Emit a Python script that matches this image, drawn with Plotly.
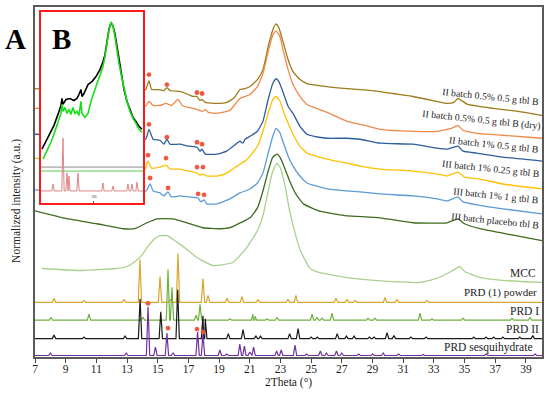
import plotly.graph_objects as go

# ---------------- data (2Theta, normalized stacked intensity, a.u.) ----------------
theta_b1 = [7.0, 8.5, 10.0, 12.0, 13.5, 14.04, 14.25, 14.43, 14.6, 15.0, 15.4, 15.6, 15.8, 16.5, 17.0, 17.3, 17.56, 17.75,
            17.89, 18.1, 18.86, 19.5, 20.0, 20.36, 20.69, 21.02, 21.5, 21.86, 22.2, 22.5, 22.71, 22.9, 23.17, 23.5, 23.82,
            24.27, 24.73, 26.04, 27.34, 28.19, 29.49, 30.34, 31.64, 33.21, 33.86, 34.3, 34.57, 34.8, 35.2, 36.86, 38.5, 40.05]
int_b1 = [270, 269, 269, 268, 267, 267, 270, 278, 269, 269, 268, 271, 268, 267, 264, 262, 262, 258,
          259, 256, 255, 256, 261, 269, 270, 272, 279, 289, 312, 329, 335, 331, 317, 299, 287,
          279, 275, 272, 270, 269, 267, 265, 262, 257, 255, 256, 260, 258, 254, 250, 247, 243]

theta_b2 = [7.0, 10.0, 12.5, 14.04, 14.25, 14.43, 14.7, 15.15, 15.54, 15.9, 16.32, 16.6, 17.0, 17.56, 17.95, 18.1, 18.3,
            18.86, 19.7, 20.36, 20.69, 21.02, 21.5, 21.86, 22.2, 22.5, 22.71, 22.95, 23.2, 23.5, 23.82, 24.27, 24.73,
            26.04, 27.34, 28.19, 29.49, 31.64, 33.21, 33.86, 34.3, 34.57, 34.9, 35.8, 37.5, 40.05]
int_b2 = [250, 251, 252, 252, 253, 257, 253, 253, 255, 253, 259, 253, 251, 249, 247, 249, 246,
          245, 248, 260, 262, 264, 272, 285, 307, 324, 328, 323, 307, 289, 274, 262, 254,
          246, 237, 234, 229, 227, 227, 229, 231, 233, 228, 225, 223, 220]

theta_b3 = [7.0, 10.0, 12.5, 14.04, 14.25, 14.43, 14.7, 15.15, 15.4, 15.6, 15.8, 16.45, 17.0, 17.56, 17.75, 17.89, 18.1,
            18.86, 19.5, 20.17, 20.36, 20.55, 20.69, 21.02, 21.5, 21.86, 22.2, 22.5, 22.71, 22.9, 23.2, 23.5, 23.82,
            24.27, 24.73, 25.5, 26.04, 27.34, 28.19, 29.49, 31.64, 33.21, 33.86, 34.57, 34.9, 35.81, 37.5, 40.05]
int_b3 = [224, 222, 219, 217, 220, 229, 219, 218, 214, 219, 214, 214, 212, 211, 207, 209, 204,
          204, 207, 215, 217, 215, 219, 222, 227, 237, 259, 275, 280, 277, 265, 252, 245,
          232, 224, 221, 220, 220, 219, 215, 214, 210, 209, 212, 207, 205, 201, 197]

theta_b4 = [7.0, 10.0, 12.5, 14.04, 14.2, 14.37, 14.6, 15.15, 15.54, 15.8, 16.45, 17.0, 17.56, 17.75, 17.95, 18.2, 18.86,
            19.5, 20.17, 20.69, 21.02, 21.5, 21.86, 22.2, 22.5, 22.71, 22.95, 23.2, 23.5, 23.82, 24.27, 24.73, 26.04,
            27.34, 28.19, 29.49, 31.64, 33.21, 33.86, 34.57, 35.0, 36.0, 37.5, 40.05]
int_b4 = [200, 195, 190, 187, 190, 197, 190, 191, 193, 189, 189, 187, 185, 183, 184, 182, 182,
          185, 192, 197, 202, 212, 227, 245, 259, 262, 258, 247, 235, 224, 212, 205, 199,
          195, 192, 189, 187, 184, 182, 186, 181, 179, 174, 169]

theta_b5 = [7.0, 10.0, 12.5, 14.04, 14.3, 14.5, 14.7, 15.15, 15.4, 15.67, 15.9, 16.45, 17.0, 17.63, 17.8, 18.02, 18.2,
            18.86, 19.7, 20.36, 21.02, 21.5, 21.86, 22.2, 22.5, 22.71, 22.95, 23.2, 23.5, 23.82, 24.27, 24.73, 26.04,
            27.34, 28.19, 29.49, 31.64, 33.21, 33.86, 34.57, 34.9, 35.81, 37.5, 40.05]
int_b5 = [168, 167, 166, 165, 168, 174, 167, 165, 162, 166, 161, 162, 161, 160, 156, 158, 154,
          154, 159, 165, 169, 175, 185, 205, 222, 230, 226, 215, 202, 192, 182, 175, 169,
          167, 166, 164, 162, 159, 157, 161, 156, 153, 149, 144]

theta_b6 = [7.0, 8.83, 11.04, 12.74, 13.5, 14.3, 14.95, 16.0, 16.91, 17.95, 19.06, 19.71, 20.4, 21.02, 21.5, 21.86,
            22.2, 22.5, 22.78, 23.0, 23.3, 23.6, 24.0, 24.5, 25.5, 26.5, 27.34, 29.49, 31.64, 33.86, 34.57, 35.0,
            36.0, 38.0, 40.05]
int_b6 = [147, 140, 134, 129, 129, 135, 139, 139, 135, 130, 129, 130, 135, 140, 150, 167,
          187, 201, 204, 200, 189, 177, 164, 154, 147, 144, 142, 140, 135, 135, 139, 134,
          129, 123, 117]

theta_mcc = [7.46, 9.9, 12.3, 13.0, 13.6, 14.0, 14.3, 14.8, 15.15, 15.6, 16.3, 17.0, 17.56, 18.6, 19.9, 20.8, 21.5,
             21.86, 22.2, 22.5, 22.78, 23.0, 23.3, 23.6, 24.0, 24.3, 24.93, 25.5, 27.73, 30.0, 32.1, 33.2, 34.0,
             34.71, 35.0, 36.0, 37.5, 40.05]
int_mcc = [89, 87, 89, 91, 97, 103, 110, 119, 122, 122, 115, 107, 100, 92, 95, 110, 127,
           142, 167, 187, 195, 190, 172, 147, 122, 107, 89, 85, 79, 76, 75, 79, 85,
           91, 86, 80, 77, 75]

# crystalline references: baseline level and (2Theta, peak height above baseline)
base_prd1 = 55
peaks_prd1 = [(8.24, 4), (10.19, 2), (12.80, 3), (13.84, 43), (15.15, 26), (15.8, 3), (16.32, 49), (17.95, 24),
              (18.28, 7), (19.52, 4), (20.49, 6), (21.54, 3), (23.49, 3), (24.01, 7), (26.62, 4), (27.34, 3),
              (27.86, 2), (29.82, 5), (30.60, 3), (32.55, 2)]
base_prdI = 37
peaks_prdI = [(8.04, 3), (10.52, 6), (14.04, 3), (15.67, 51), (15.93, 33), (17.5, 5), (17.76, 16), (19.71, 1.5),
              (21.21, 6), (21.34, 4), (22.12, 1.5), (22.78, 3), (25.06, 6), (25.38, 3), (25.71, 2), (26.36, 7),
              (28.71, 2), (29.16, 2), (32.1, 7), (32.88, 1.5), (34.9, 2), (38.1, 2), (39.27, 3)]
base_prdII = 18.5
peaks_prdII = [(8.24, 3.5), (10.19, 1.5), (12.87, 2.5), (13.85, 40), (15.2, 27), (16.3, 49), (17.95, 23), (18.1, 20),
               (19.6, 5), (20.56, 9), (21.4, 2.5), (21.7, 2.5), (23.6, 5), (24.15, 10), (25.0, 1.5), (25.4, 1.5),
               (26.7, 5), (27.3, 2.5), (27.8, 2.5), (28.8, 1.5), (29.1, 1.5), (29.95, 6), (30.4, 3), (31.5, 1.5),
               (32.5, 1.5), (35.6, 1.5), (36.4, 1.5), (36.9, 1.5), (37.5, 1.5), (38.6, 1.5), (39.45, 3)]
base_sesq = 1.5
peaks_sesq = [(8.0, 2.5), (12.95, 2.5), (14.37, 49), (14.85, 8.5), (15.6, 22.5), (16.0, 2.5), (17.6, 23.5),
              (17.95, 21.5), (19.05, 5.5), (19.5, 1.5), (20.35, 11.5), (20.65, 9.5), (21.0, 3.5), (21.25, 8.5),
              (22.75, 4.5), (23.05, 5.5), (23.95, 10.5), (24.7, 1.5), (25.6, 4.5), (26.0, 2.5), (26.65, 4.5),
              (27.0, 2.5), (28.1, 1.5), (29.0, 1.5), (29.7, 2.5), (30.7, 1.5), (32.3, 1), (36.4, 1.5), (39.6, 1.5)]

# red asterisks (2Theta, intensity)
stars_theta = [14.43, 15.6, 17.56, 17.89, 14.43, 15.6, 17.56, 17.89, 14.37, 15.54, 17.56, 17.95,
               14.5, 15.67, 17.63, 18.02, 14.37, 15.67, 17.56, 17.95]
stars_int = [284, 274, 266, 265, 234, 221, 216, 214, 203, 200, 191, 191,
             180, 170, 164, 163, 54, 29, 28, 25]

# inset B
inset_theta_black = [12.0, 12.6, 13.23, 13.85, 14.46, 14.92, 15.08, 15.23, 15.69, 16.31, 16.92, 17.38, 17.69, 18.0,
                     18.15, 18.46, 19.08, 19.69, 20.31, 20.92, 21.38, 21.69, 22.0, 22.31, 22.62, 22.92, 23.23, 23.54,
                     23.85, 24.15, 24.62, 25.08, 25.54, 26.0, 26.46, 26.92, 27.38]
inset_int_black = [54, 62, 70, 78, 89, 98, 105, 99, 104, 105, 103, 105, 109, 114,
                   107, 110, 119, 122, 127, 134, 142, 149, 162, 175, 181, 178, 170, 157,
                   142, 130, 114, 102, 94, 86, 82, 77, 74]
inset_theta_green = [12.15, 12.77, 13.38, 14.0, 14.46, 14.92, 15.08, 15.23, 15.54, 15.85, 16.15, 16.46, 16.77, 17.08,
                     17.38, 17.69, 18.0, 18.15, 18.62, 19.08, 19.54, 20.0, 20.46, 20.92, 21.38, 21.69, 22.0, 22.31,
                     22.62, 22.92, 23.23, 23.54, 23.85, 24.15, 24.62, 25.08, 25.54, 26.0, 26.46, 26.92, 27.38]
inset_int_green = [44, 52, 61, 72, 82, 90, 99, 92, 96, 90, 94, 89, 96, 90,
                   92, 88, 102, 90, 86, 90, 102, 112, 120, 128, 137, 147, 160, 174,
                   182, 178, 167, 152, 140, 130, 114, 102, 92, 85, 80, 74, 71]
inset_base_pink = 12
inset_peaks_pink = [(13.69, 7), (15.23, 53), (15.85, 18), (16.15, 15), (17.54, 18), (21.38, 8), (22.92, 5),
                    (25.23, 7), (25.85, 7), (26.62, 9)]
inset_level_gray = 36
inset_level_green = 32

labels = ["II batch 0.5% 0.5 g tbl B", "II batch 0.5% 0.5 g tbl B (dry)", "II batch 1% 0.5 g tbl B",
          "III batch 1% 0.25 g tbl B", "III batch 1% 1 g tbl B", "III batch placebo tbl B",
          "MCC", "PRD (1) powder", "PRD I", "PRD II", "PRD sesquihydrate"]
x_ticks = list(range(7, 40, 2))

# ---------------- figure ----------------
X0, X1 = 7.0, 40.05
IX0, IX1 = 11.85, 27.54


def stick_profile(peaks, base, x0, x1, hw):
    pts = [(x0, base), (x1, base)]
    for p, h in peaks:
        pts += [(p - hw, base), (p, base + h), (p + hw, base)]
    pts.sort(key=lambda t: t[0])
    return [t[0] for t in pts], [t[1] for t in pts]


SERIF = "Liberation Serif"
fig = go.Figure()

amorph = [
    (theta_b1, int_b1, "#9B7B1C"),
    (theta_b2, int_b2, "#F0884A"),
    (theta_b3, int_b3, "#2E5E9A"),
    (theta_b4, int_b4, "#FFC000"),
    (theta_b5, int_b5, "#5B9BD5"),
    (theta_b6, int_b6, "#3D6B1F"),
    (theta_mcc, int_mcc, "#A9D18E"),
]
for tx, ty, col in amorph:
    fig.add_trace(go.Scatter(x=tx, y=ty, mode="lines", line=dict(color=col, width=1.3, shape="spline", smoothing=0.4),
                             hoverinfo="skip", showlegend=False))

cryst = [
    (peaks_prd1, base_prd1, "#D9A62E"),
    (peaks_prdI, base_prdI, "#6FB043"),
    (peaks_prdII, base_prdII, "#1A1A1A"),
    (peaks_sesq, base_sesq, "#7030A0"),
]
for pk, b, col in cryst:
    sx, sy = stick_profile(pk, b, X0, X1, 0.11)
    fig.add_trace(go.Scatter(x=sx, y=sy, mode="lines", line=dict(color=col, width=1.2),
                             hoverinfo="skip", showlegend=False))

fig.add_trace(go.Scatter(x=stars_theta, y=stars_int, mode="markers",
                         marker=dict(symbol="asterisk-open", size=4, line=dict(color="#FF2A2A", width=1.3)),
                         hoverinfo="skip", showlegend=False))

# inset (drawn above main traces)
fig.add_trace(go.Scatter(x=[IX0, IX1, IX1, IX0, IX0], y=[0, 0, 192, 192, 0], fill="toself", fillcolor="white",
                         mode="lines", line=dict(width=0), xaxis="x2", yaxis="y2", hoverinfo="skip", showlegend=False))
fig.add_trace(go.Scatter(x=[IX0, IX1], y=[inset_level_gray] * 2, mode="lines", line=dict(color="#8C8C8C", width=1),
                         xaxis="x2", yaxis="y2", hoverinfo="skip", showlegend=False))
fig.add_trace(go.Scatter(x=[IX0, IX1], y=[inset_level_green] * 2, mode="lines", line=dict(color="#55D055", width=1),
                         xaxis="x2", yaxis="y2", hoverinfo="skip", showlegend=False))
px_, py_ = stick_profile(inset_peaks_pink, inset_base_pink, IX0, IX1, 0.18)
fig.add_trace(go.Scatter(x=px_, y=py_, mode="lines", line=dict(color="#E08585", width=1),
                         xaxis="x2", yaxis="y2", hoverinfo="skip", showlegend=False))
fig.add_trace(go.Scatter(x=inset_theta_black, y=inset_int_black, mode="lines", line=dict(color="#000000", width=1.6),
                         xaxis="x2", yaxis="y2", hoverinfo="skip", showlegend=False))
fig.add_trace(go.Scatter(x=inset_theta_green, y=inset_int_green, mode="lines", line=dict(color="#18DD18", width=1.6),
                         xaxis="x2", yaxis="y2", hoverinfo="skip", showlegend=False))

L, R, T, B = 35, 8, 5, 37
W, H = 550, 394
PW, PH = W - L - R, H - T - B


def px(xp):
    return (xp - L) / PW


def py(yp):
    return (H - B - yp) / PH


ann = []
label_pos = [(490, 95, 6, 9.8), (481, 119, 6, 9.8), (494, 143, 6, 9.8), (491, 167, 6, 9.8), (496, 195, 6, 9.8),
             (495, 220, 6, 9.8), (523, 273, 0, 11.5), (500, 292, 0, 11), (524, 311, 0, 11.5), (522, 329, 0, 11.5),
             (488, 347, 0, 11.5)]
for txt, (lx, ly, ang, fs) in zip(labels, label_pos):
    ann.append(dict(text=txt, x=px(lx), y=py(ly), xref="paper", yref="paper", showarrow=False, textangle=ang,
                    xanchor="center", yanchor="middle", font=dict(family=SERIF, size=fs, color="#222")))
ann.append(dict(text="<b>A</b>", x=px(15), y=py(37), xref="paper", yref="paper", showarrow=False,
                xanchor="center", yanchor="middle", font=dict(family=SERIF, size=29, color="#000")))
ann.append(dict(text="<b>B</b>", x=px(61), y=py(37), xref="paper", yref="paper", showarrow=False,
                xanchor="center", yanchor="middle", font=dict(family=SERIF, size=29, color="#000")))
ann.append(dict(text="Normalized intensity (a.u.)", x=px(17), y=py(200), xref="paper", yref="paper",
                showarrow=False, textangle=-90, xanchor="center", yanchor="middle",
                font=dict(family=SERIF, size=11.5, color="#222")))
ann.append(dict(text="2Theta (°)", x=px(288), y=py(383), xref="paper", yref="paper", showarrow=False,
                xanchor="center", yanchor="middle", font=dict(family=SERIF, size=11.5, color="#222")))

fig.update_layout(
    width=W, height=H, margin=dict(l=L, r=R, t=T, b=B), paper_bgcolor="white", plot_bgcolor="white",
    showlegend=False, annotations=ann,
    xaxis=dict(range=[X0, X1], tickvals=x_ticks, ticks="outside", ticklen=4, tickcolor="#444", showline=True,
               linecolor="#5A5A5A", linewidth=1.5, mirror=True, showgrid=False, zeroline=False,
               ticklabelstandoff=-4,
               tickfont=dict(family=SERIF, size=11.5, color="#222")),
    yaxis=dict(range=[0, PH], showticklabels=False, ticks="", showline=True, linecolor="#5A5A5A", linewidth=1.5,
               mirror=True, showgrid=False, zeroline=False),
    xaxis2=dict(domain=[px(41), px(143)], anchor="y2", range=[IX0, IX1], tickvals=[20], ticks="inside", ticklen=2,
                tickcolor="#666", ticklabelposition="inside", tickfont=dict(family=SERIF, size=5, color="#333"),
                showline=True, linecolor="#FF1A1A", linewidth=2, mirror=True, showgrid=False, zeroline=False),
    yaxis2=dict(domain=[py(202), py(10)], anchor="x2", range=[0, 192], showticklabels=False, ticks="",
                showline=True, linecolor="#FF1A1A", linewidth=2, mirror=True, showgrid=False, zeroline=False),
)

fig.write_html("out.html", config={"displayModeBar": False},
               post_script="document.body.style.margin='0';")
